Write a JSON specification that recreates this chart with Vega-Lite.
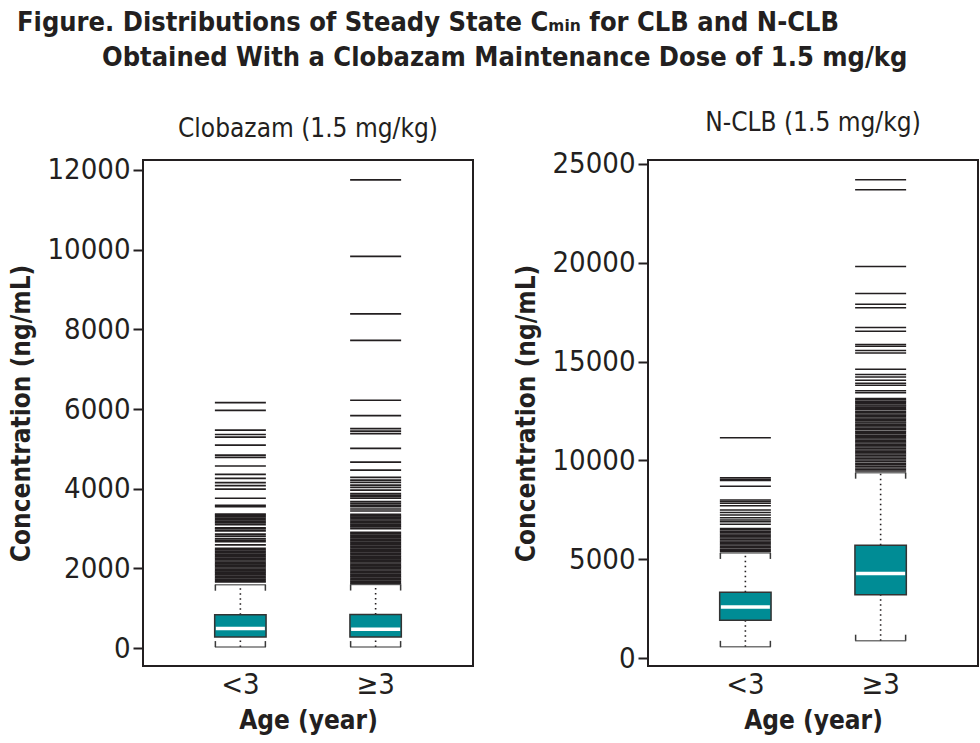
{
  "$schema": "https://vega.github.io/schema/vega-lite/v6.json",
  "padding": {"left": 7, "right": 3, "top": 8, "bottom": 2},
  "background": "white",
  "title": {
    "text": ["Figure. Distributions of Steady State Cₘᵢₙ for CLB and N-CLB", "\u200B\u2003\u2003\u2003\u2002Obtained With a Clobazam Maintenance Dose of 1.5 mg/kg"],
    "anchor": "start",
    "font": "DejaVu Sans Condensed, Roboto",
    "fontSize": 27,
    "fontWeight": "bold",
    "color": "#231f20",
    "lineHeight": 35,
    "offset": 37,
    "dx": 10
  },
  "datasets": {
    "stats": [
      {"panel": "CLB", "age": "<3", "lower": 25, "q1": 275, "median": 490, "q3": 835, "upper": 1590},
      {"panel": "CLB", "age": "≥3", "lower": 25, "q1": 275, "median": 470, "q3": 845, "upper": 1595},
      {"panel": "NCLB", "age": "<3", "lower": 570, "q1": 1910, "median": 2585, "q3": 3335, "upper": 5320},
      {"panel": "NCLB", "age": "≥3", "lower": 880, "q1": 3200, "median": 4280, "q3": 5710, "upper": 9380}
    ],
    "outliers": [
      {"panel": "CLB", "age": "<3", "value": 6160}, {"panel": "CLB", "age": "<3", "value": 5965}, {"panel": "CLB", "age": "<3", "value": 5470}, {"panel": "CLB", "age": "<3", "value": 5360}, {"panel": "CLB", "age": "<3", "value": 5295}, {"panel": "CLB", "age": "<3", "value": 5095}, {"panel": "CLB", "age": "<3", "value": 4845}, {"panel": "CLB", "age": "<3", "value": 4785}, {"panel": "CLB", "age": "<3", "value": 4570}, {"panel": "CLB", "age": "<3", "value": 4360}, {"panel": "CLB", "age": "<3", "value": 4260}, {"panel": "CLB", "age": "<3", "value": 4150}, {"panel": "CLB", "age": "<3", "value": 4075}, {"panel": "CLB", "age": "<3", "value": 3990}, {"panel": "CLB", "age": "<3", "value": 3760}, {"panel": "CLB", "age": "<3", "value": 3580}, {"panel": "CLB", "age": "<3", "value": 3550}, {"panel": "CLB", "age": "<3", "value": 3360}, {"panel": "CLB", "age": "<3", "value": 3330}, {"panel": "CLB", "age": "<3", "value": 3300}, {"panel": "CLB", "age": "<3", "value": 3260}, {"panel": "CLB", "age": "<3", "value": 3220}, {"panel": "CLB", "age": "<3", "value": 3180}, {"panel": "CLB", "age": "<3", "value": 3140}, {"panel": "CLB", "age": "<3", "value": 3100}, {"panel": "CLB", "age": "<3", "value": 3020}, {"panel": "CLB", "age": "<3", "value": 2990}, {"panel": "CLB", "age": "<3", "value": 2940}, {"panel": "CLB", "age": "<3", "value": 2860}, {"panel": "CLB", "age": "<3", "value": 2810}, {"panel": "CLB", "age": "<3", "value": 2750}, {"panel": "CLB", "age": "<3", "value": 2710}, {"panel": "CLB", "age": "<3", "value": 2670}, {"panel": "CLB", "age": "<3", "value": 2590},
      {"panel": "CLB", "age": "<3", "value": 2500}, {"panel": "CLB", "age": "<3", "value": 2465}, {"panel": "CLB", "age": "<3", "value": 2430}, {"panel": "CLB", "age": "<3", "value": 2395}, {"panel": "CLB", "age": "<3", "value": 2360}, {"panel": "CLB", "age": "<3", "value": 2325}, {"panel": "CLB", "age": "<3", "value": 2290}, {"panel": "CLB", "age": "<3", "value": 2255}, {"panel": "CLB", "age": "<3", "value": 2220}, {"panel": "CLB", "age": "<3", "value": 2185}, {"panel": "CLB", "age": "<3", "value": 2150}, {"panel": "CLB", "age": "<3", "value": 2115}, {"panel": "CLB", "age": "<3", "value": 2080}, {"panel": "CLB", "age": "<3", "value": 2045}, {"panel": "CLB", "age": "<3", "value": 2010}, {"panel": "CLB", "age": "<3", "value": 1975}, {"panel": "CLB", "age": "<3", "value": 1940}, {"panel": "CLB", "age": "<3", "value": 1905}, {"panel": "CLB", "age": "<3", "value": 1870}, {"panel": "CLB", "age": "<3", "value": 1835}, {"panel": "CLB", "age": "<3", "value": 1800}, {"panel": "CLB", "age": "<3", "value": 1765}, {"panel": "CLB", "age": "<3", "value": 1730}, {"panel": "CLB", "age": "<3", "value": 1695}, {"panel": "CLB", "age": "<3", "value": 1660},
      {"panel": "CLB", "age": "≥3", "value": 11750}, {"panel": "CLB", "age": "≥3", "value": 9830}, {"panel": "CLB", "age": "≥3", "value": 8390}, {"panel": "CLB", "age": "≥3", "value": 7725}, {"panel": "CLB", "age": "≥3", "value": 6220}, {"panel": "CLB", "age": "≥3", "value": 5835}, {"panel": "CLB", "age": "≥3", "value": 5510}, {"panel": "CLB", "age": "≥3", "value": 5445}, {"panel": "CLB", "age": "≥3", "value": 5380}, {"panel": "CLB", "age": "≥3", "value": 5010}, {"panel": "CLB", "age": "≥3", "value": 4665}, {"panel": "CLB", "age": "≥3", "value": 4465}, {"panel": "CLB", "age": "≥3", "value": 4285}, {"panel": "CLB", "age": "≥3", "value": 4215}, {"panel": "CLB", "age": "≥3", "value": 4160}, {"panel": "CLB", "age": "≥3", "value": 4090}, {"panel": "CLB", "age": "≥3", "value": 4035}, {"panel": "CLB", "age": "≥3", "value": 3965}, {"panel": "CLB", "age": "≥3", "value": 3880}, {"panel": "CLB", "age": "≥3", "value": 3840}, {"panel": "CLB", "age": "≥3", "value": 3800}, {"panel": "CLB", "age": "≥3", "value": 3760}, {"panel": "CLB", "age": "≥3", "value": 3675}, {"panel": "CLB", "age": "≥3", "value": 3635}, {"panel": "CLB", "age": "≥3", "value": 3590}, {"panel": "CLB", "age": "≥3", "value": 3550}, {"panel": "CLB", "age": "≥3", "value": 3490}, {"panel": "CLB", "age": "≥3", "value": 3440},
      {"panel": "CLB", "age": "≥3", "value": 3355}, {"panel": "CLB", "age": "≥3", "value": 3320}, {"panel": "CLB", "age": "≥3", "value": 3285}, {"panel": "CLB", "age": "≥3", "value": 3250}, {"panel": "CLB", "age": "≥3", "value": 3215}, {"panel": "CLB", "age": "≥3", "value": 3180}, {"panel": "CLB", "age": "≥3", "value": 3145}, {"panel": "CLB", "age": "≥3", "value": 3110}, {"panel": "CLB", "age": "≥3", "value": 3075}, {"panel": "CLB", "age": "≥3", "value": 3040}, {"panel": "CLB", "age": "≥3", "value": 3000},
      {"panel": "CLB", "age": "≥3", "value": 2905}, {"panel": "CLB", "age": "≥3", "value": 2870}, {"panel": "CLB", "age": "≥3", "value": 2835}, {"panel": "CLB", "age": "≥3", "value": 2800}, {"panel": "CLB", "age": "≥3", "value": 2765}, {"panel": "CLB", "age": "≥3", "value": 2730}, {"panel": "CLB", "age": "≥3", "value": 2695}, {"panel": "CLB", "age": "≥3", "value": 2660}, {"panel": "CLB", "age": "≥3", "value": 2625}, {"panel": "CLB", "age": "≥3", "value": 2590}, {"panel": "CLB", "age": "≥3", "value": 2555}, {"panel": "CLB", "age": "≥3", "value": 2520}, {"panel": "CLB", "age": "≥3", "value": 2485}, {"panel": "CLB", "age": "≥3", "value": 2450}, {"panel": "CLB", "age": "≥3", "value": 2415}, {"panel": "CLB", "age": "≥3", "value": 2380}, {"panel": "CLB", "age": "≥3", "value": 2345}, {"panel": "CLB", "age": "≥3", "value": 2310}, {"panel": "CLB", "age": "≥3", "value": 2275}, {"panel": "CLB", "age": "≥3", "value": 2240}, {"panel": "CLB", "age": "≥3", "value": 2205}, {"panel": "CLB", "age": "≥3", "value": 2170}, {"panel": "CLB", "age": "≥3", "value": 2135}, {"panel": "CLB", "age": "≥3", "value": 2100}, {"panel": "CLB", "age": "≥3", "value": 2065}, {"panel": "CLB", "age": "≥3", "value": 2030}, {"panel": "CLB", "age": "≥3", "value": 1995}, {"panel": "CLB", "age": "≥3", "value": 1960}, {"panel": "CLB", "age": "≥3", "value": 1925}, {"panel": "CLB", "age": "≥3", "value": 1890}, {"panel": "CLB", "age": "≥3", "value": 1855}, {"panel": "CLB", "age": "≥3", "value": 1820}, {"panel": "CLB", "age": "≥3", "value": 1785}, {"panel": "CLB", "age": "≥3", "value": 1750}, {"panel": "CLB", "age": "≥3", "value": 1715}, {"panel": "CLB", "age": "≥3", "value": 1680}, {"panel": "CLB", "age": "≥3", "value": 1645}, {"panel": "CLB", "age": "≥3", "value": 1615},
      {"panel": "NCLB", "age": "<3", "value": 11145}, {"panel": "NCLB", "age": "<3", "value": 9130}, {"panel": "NCLB", "age": "<3", "value": 9050}, {"panel": "NCLB", "age": "<3", "value": 8980}, {"panel": "NCLB", "age": "<3", "value": 8700}, {"panel": "NCLB", "age": "<3", "value": 8000}, {"panel": "NCLB", "age": "<3", "value": 7920}, {"panel": "NCLB", "age": "<3", "value": 7830}, {"panel": "NCLB", "age": "<3", "value": 7710}, {"panel": "NCLB", "age": "<3", "value": 7490}, {"panel": "NCLB", "age": "<3", "value": 7360}, {"panel": "NCLB", "age": "<3", "value": 7240}, {"panel": "NCLB", "age": "<3", "value": 7105}, {"panel": "NCLB", "age": "<3", "value": 6990}, {"panel": "NCLB", "age": "<3", "value": 6900}, {"panel": "NCLB", "age": "<3", "value": 6770},
      {"panel": "NCLB", "age": "<3", "value": 6560}, {"panel": "NCLB", "age": "<3", "value": 6490}, {"panel": "NCLB", "age": "<3", "value": 6420}, {"panel": "NCLB", "age": "<3", "value": 6350}, {"panel": "NCLB", "age": "<3", "value": 6280}, {"panel": "NCLB", "age": "<3", "value": 6210}, {"panel": "NCLB", "age": "<3", "value": 6140}, {"panel": "NCLB", "age": "<3", "value": 6070}, {"panel": "NCLB", "age": "<3", "value": 6000}, {"panel": "NCLB", "age": "<3", "value": 5930}, {"panel": "NCLB", "age": "<3", "value": 5860}, {"panel": "NCLB", "age": "<3", "value": 5790}, {"panel": "NCLB", "age": "<3", "value": 5720}, {"panel": "NCLB", "age": "<3", "value": 5650}, {"panel": "NCLB", "age": "<3", "value": 5580}, {"panel": "NCLB", "age": "<3", "value": 5510}, {"panel": "NCLB", "age": "<3", "value": 5440}, {"panel": "NCLB", "age": "<3", "value": 5390},
      {"panel": "NCLB", "age": "≥3", "value": 24200}, {"panel": "NCLB", "age": "≥3", "value": 23690}, {"panel": "NCLB", "age": "≥3", "value": 19815}, {"panel": "NCLB", "age": "≥3", "value": 18450}, {"panel": "NCLB", "age": "≥3", "value": 17900}, {"panel": "NCLB", "age": "≥3", "value": 17720}, {"panel": "NCLB", "age": "≥3", "value": 16720}, {"panel": "NCLB", "age": "≥3", "value": 16530}, {"panel": "NCLB", "age": "≥3", "value": 15870}, {"panel": "NCLB", "age": "≥3", "value": 15780}, {"panel": "NCLB", "age": "≥3", "value": 15560}, {"panel": "NCLB", "age": "≥3", "value": 15440}, {"panel": "NCLB", "age": "≥3", "value": 14610}, {"panel": "NCLB", "age": "≥3", "value": 14345}, {"panel": "NCLB", "age": "≥3", "value": 14220}, {"panel": "NCLB", "age": "≥3", "value": 14060}, {"panel": "NCLB", "age": "≥3", "value": 13910}, {"panel": "NCLB", "age": "≥3", "value": 13805}, {"panel": "NCLB", "age": "≥3", "value": 13520}, {"panel": "NCLB", "age": "≥3", "value": 13420},
      {"panel": "NCLB", "age": "≥3", "value": 13130}, {"panel": "NCLB", "age": "≥3", "value": 13070}, {"panel": "NCLB", "age": "≥3", "value": 13000}, {"panel": "NCLB", "age": "≥3", "value": 12940}, {"panel": "NCLB", "age": "≥3", "value": 12880}, {"panel": "NCLB", "age": "≥3", "value": 12810}, {"panel": "NCLB", "age": "≥3", "value": 12750}, {"panel": "NCLB", "age": "≥3", "value": 12690}, {"panel": "NCLB", "age": "≥3", "value": 12620}, {"panel": "NCLB", "age": "≥3", "value": 12560}, {"panel": "NCLB", "age": "≥3", "value": 12480}, {"panel": "NCLB", "age": "≥3", "value": 12420}, {"panel": "NCLB", "age": "≥3", "value": 12350}, {"panel": "NCLB", "age": "≥3", "value": 12290}, {"panel": "NCLB", "age": "≥3", "value": 12220}, {"panel": "NCLB", "age": "≥3", "value": 12150}, {"panel": "NCLB", "age": "≥3", "value": 12090}, {"panel": "NCLB", "age": "≥3", "value": 12020}, {"panel": "NCLB", "age": "≥3", "value": 11950}, {"panel": "NCLB", "age": "≥3", "value": 11890}, {"panel": "NCLB", "age": "≥3", "value": 11820}, {"panel": "NCLB", "age": "≥3", "value": 11760}, {"panel": "NCLB", "age": "≥3", "value": 11690}, {"panel": "NCLB", "age": "≥3", "value": 11620}, {"panel": "NCLB", "age": "≥3", "value": 11560}, {"panel": "NCLB", "age": "≥3", "value": 11480}, {"panel": "NCLB", "age": "≥3", "value": 11420}, {"panel": "NCLB", "age": "≥3", "value": 11350}, {"panel": "NCLB", "age": "≥3", "value": 11280}, {"panel": "NCLB", "age": "≥3", "value": 11220}, {"panel": "NCLB", "age": "≥3", "value": 11150}, {"panel": "NCLB", "age": "≥3", "value": 11080}, {"panel": "NCLB", "age": "≥3", "value": 11010}, {"panel": "NCLB", "age": "≥3", "value": 10950}, {"panel": "NCLB", "age": "≥3", "value": 10880}, {"panel": "NCLB", "age": "≥3", "value": 10810}, {"panel": "NCLB", "age": "≥3", "value": 10740}, {"panel": "NCLB", "age": "≥3", "value": 10680}, {"panel": "NCLB", "age": "≥3", "value": 10600}, {"panel": "NCLB", "age": "≥3", "value": 10530}, {"panel": "NCLB", "age": "≥3", "value": 10460}, {"panel": "NCLB", "age": "≥3", "value": 10390}, {"panel": "NCLB", "age": "≥3", "value": 10320}, {"panel": "NCLB", "age": "≥3", "value": 10250}, {"panel": "NCLB", "age": "≥3", "value": 10180}, {"panel": "NCLB", "age": "≥3", "value": 10100}, {"panel": "NCLB", "age": "≥3", "value": 10020}, {"panel": "NCLB", "age": "≥3", "value": 9940}, {"panel": "NCLB", "age": "≥3", "value": 9860}, {"panel": "NCLB", "age": "≥3", "value": 9780}, {"panel": "NCLB", "age": "≥3", "value": 9700}, {"panel": "NCLB", "age": "≥3", "value": 9620}, {"panel": "NCLB", "age": "≥3", "value": 9540}, {"panel": "NCLB", "age": "≥3", "value": 9460}
    ]
  },
  "hconcat": [
    {
      "width": 330,
      "height": 506,
      "title": {"text": "Clobazam (1.5 mg/kg)", "fontSize": 26, "fontWeight": "normal", "font": "DejaVu Sans Condensed, Roboto", "color": "#231f20", "offset": 14},
      "encoding": {
        "x": {"field": "age", "type": "nominal", "sort": ["<3", "≥3"], "title": "Age (year)", "scale": {"paddingInner": 0.62, "paddingOuter": 0.53}}
      },
      "layer": [
        {"data": {"name": "outliers"}, "transform": [{"filter": "datum.panel === 'CLB'"}],
         "mark": {"type": "tick", "color": "#231f20", "thickness": 1.7, "size": 51, "opacity": 1},
         "encoding": {"y": {"field": "value", "type": "quantitative", "title": "Concentration (ng/mL)", "scale": {"domain": [-450, 12250], "nice": false, "zero": false}, "axis": {"values": [0, 2000, 4000, 6000, 8000, 10000, 12000], "format": "d"}}}},
        {"data": {"name": "stats"}, "transform": [{"filter": "datum.panel === 'CLB'"}],
         "layer": [
           {"mark": {"type": "rule", "color": "#231f20", "strokeWidth": 1.6, "strokeDash": [1.5, 3.5]}, "encoding": {"y": {"field": "lower", "type": "quantitative", "title": "Concentration (ng/mL)"}, "y2": {"field": "q1"}}},
           {"mark": {"type": "rule", "color": "#231f20", "strokeWidth": 1.6, "strokeDash": [1.5, 3.5]}, "encoding": {"y": {"field": "q3", "type": "quantitative", "title": "Concentration (ng/mL)"}, "y2": {"field": "upper"}}},
           {"mark": {"type": "tick", "color": "#3a3a3a", "thickness": 1.5, "size": 51}, "encoding": {"y": {"field": "lower", "type": "quantitative", "title": "Concentration (ng/mL)"}}},
           {"mark": {"type": "tick", "color": "#3a3a3a", "thickness": 1.5, "size": 51}, "encoding": {"y": {"field": "upper", "type": "quantitative", "title": "Concentration (ng/mL)"}}},
           {"mark": {"type": "rule", "color": "#3a3a3a", "strokeWidth": 1.5, "xOffset": -25, "y2Offset": -6}, "encoding": {"y": {"field": "lower", "type": "quantitative", "title": "Concentration (ng/mL)"}, "y2": {"field": "lower"}}},
           {"mark": {"type": "rule", "color": "#3a3a3a", "strokeWidth": 1.5, "xOffset": 25, "y2Offset": -6}, "encoding": {"y": {"field": "lower", "type": "quantitative", "title": "Concentration (ng/mL)"}, "y2": {"field": "lower"}}},
           {"mark": {"type": "rule", "color": "#3a3a3a", "strokeWidth": 1.5, "xOffset": -25, "y2Offset": 6}, "encoding": {"y": {"field": "upper", "type": "quantitative", "title": "Concentration (ng/mL)"}, "y2": {"field": "upper"}}},
           {"mark": {"type": "rule", "color": "#3a3a3a", "strokeWidth": 1.5, "xOffset": 25, "y2Offset": 6}, "encoding": {"y": {"field": "upper", "type": "quantitative", "title": "Concentration (ng/mL)"}, "y2": {"field": "upper"}}},
           {"mark": {"type": "bar", "fill": "#008c95", "stroke": "#333333", "strokeWidth": 1.5}, "encoding": {"y": {"field": "q1", "type": "quantitative", "title": "Concentration (ng/mL)"}, "y2": {"field": "q3"}}},
           {"mark": {"type": "tick", "color": "white", "thickness": 3.5, "size": 49, "opacity": 1}, "encoding": {"y": {"field": "median", "type": "quantitative", "title": "Concentration (ng/mL)"}}}
         ]}
      ]
    },
    {
      "width": 330,
      "height": 506,
      "title": {"text": "N-CLB (1.5 mg/kg)", "fontSize": 26, "fontWeight": "normal", "font": "DejaVu Sans Condensed, Roboto", "color": "#231f20", "offset": 14},
      "encoding": {
        "x": {"field": "age", "type": "nominal", "sort": ["<3", "≥3"], "title": "Age (year)", "scale": {"paddingInner": 0.62, "paddingOuter": 0.53}}
      },
      "layer": [
        {"data": {"name": "outliers"}, "transform": [{"filter": "datum.panel === 'NCLB'"}],
         "mark": {"type": "tick", "color": "#231f20", "thickness": 1.5, "size": 51, "opacity": 1},
         "encoding": {"y": {"field": "value", "type": "quantitative", "title": "Concentration (ng/mL)", "scale": {"domain": [-400, 25200], "nice": false, "zero": false}, "axis": {"values": [0, 5000, 10000, 15000, 20000, 25000], "format": "d"}}}},
        {"data": {"name": "stats"}, "transform": [{"filter": "datum.panel === 'NCLB'"}],
         "layer": [
           {"mark": {"type": "rule", "color": "#231f20", "strokeWidth": 1.6, "strokeDash": [1.5, 3.5]}, "encoding": {"y": {"field": "lower", "type": "quantitative", "title": "Concentration (ng/mL)"}, "y2": {"field": "q1"}}},
           {"mark": {"type": "rule", "color": "#231f20", "strokeWidth": 1.6, "strokeDash": [1.5, 3.5]}, "encoding": {"y": {"field": "q3", "type": "quantitative", "title": "Concentration (ng/mL)"}, "y2": {"field": "upper"}}},
           {"mark": {"type": "tick", "color": "#3a3a3a", "thickness": 1.5, "size": 51}, "encoding": {"y": {"field": "lower", "type": "quantitative", "title": "Concentration (ng/mL)"}}},
           {"mark": {"type": "tick", "color": "#3a3a3a", "thickness": 1.5, "size": 51}, "encoding": {"y": {"field": "upper", "type": "quantitative", "title": "Concentration (ng/mL)"}}},
           {"mark": {"type": "rule", "color": "#3a3a3a", "strokeWidth": 1.5, "xOffset": -25, "y2Offset": -6}, "encoding": {"y": {"field": "lower", "type": "quantitative", "title": "Concentration (ng/mL)"}, "y2": {"field": "lower"}}},
           {"mark": {"type": "rule", "color": "#3a3a3a", "strokeWidth": 1.5, "xOffset": 25, "y2Offset": -6}, "encoding": {"y": {"field": "lower", "type": "quantitative", "title": "Concentration (ng/mL)"}, "y2": {"field": "lower"}}},
           {"mark": {"type": "rule", "color": "#3a3a3a", "strokeWidth": 1.5, "xOffset": -25, "y2Offset": 6}, "encoding": {"y": {"field": "upper", "type": "quantitative", "title": "Concentration (ng/mL)"}, "y2": {"field": "upper"}}},
           {"mark": {"type": "rule", "color": "#3a3a3a", "strokeWidth": 1.5, "xOffset": 25, "y2Offset": 6}, "encoding": {"y": {"field": "upper", "type": "quantitative", "title": "Concentration (ng/mL)"}, "y2": {"field": "upper"}}},
           {"mark": {"type": "bar", "fill": "#008c95", "stroke": "#333333", "strokeWidth": 1.5}, "encoding": {"y": {"field": "q1", "type": "quantitative", "title": "Concentration (ng/mL)"}, "y2": {"field": "q3"}}},
           {"mark": {"type": "tick", "color": "white", "thickness": 3.5, "size": 49, "opacity": 1}, "encoding": {"y": {"field": "median", "type": "quantitative", "title": "Concentration (ng/mL)"}}}
         ]}
      ]
    }
  ],
  "spacing": 38,
  "config": {
    "font": "DejaVu Sans Condensed, Roboto",
    "view": {"stroke": "#231f20", "strokeWidth": 2},
    "axis": {
      "labelFont": "DejaVu Sans Condensed, Roboto",
      "labelFontSize": 29,
      "labelColor": "#231f20",
      "titleFont": "DejaVu Sans Condensed, Roboto",
      "titleFontSize": 26,
      "titleFontWeight": "bold",
      "titleColor": "#231f20",
      "grid": false,
      "domain": false,
      "tickColor": "#231f20",
      "tickWidth": 2,
      "tickSize": 10,
      "labelPadding": 3
    },
    "axisX": {"ticks": false, "labelAngle": 0, "labelPadding": 4, "titlePadding": 8},
    "axisY": {"titlePadding": 13}
  }
}
